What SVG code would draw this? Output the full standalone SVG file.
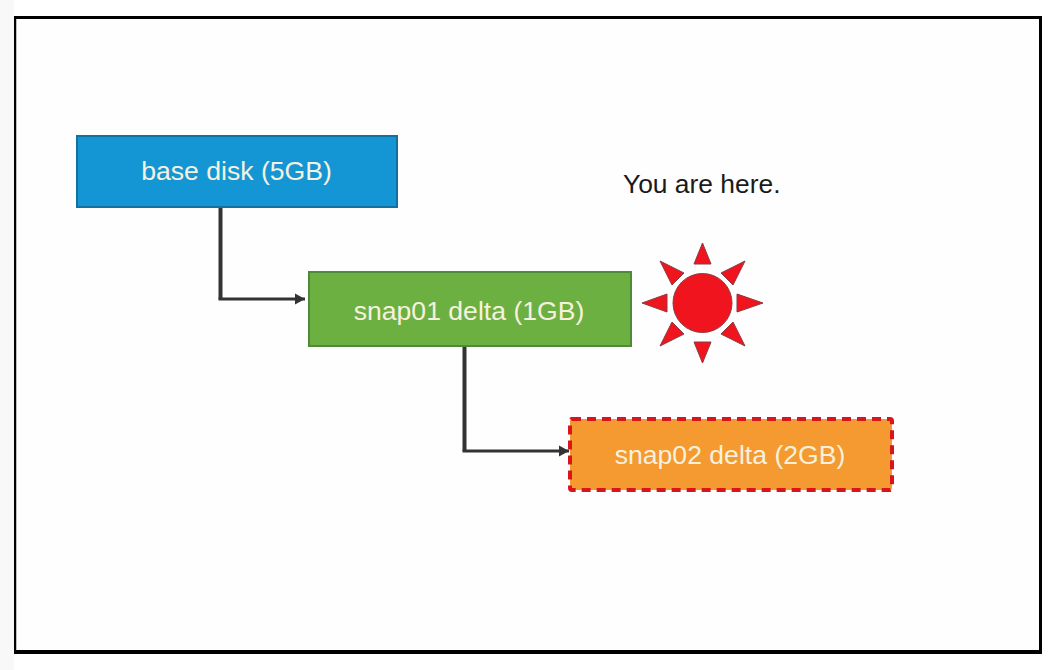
<svg xmlns="http://www.w3.org/2000/svg" width="1064" height="670" viewBox="0 0 1064 670">
  <style>
    .box { stroke-width: 2; }
    .label { font-family: "Liberation Sans", Arial, sans-serif; font-size: 26.600px; fill: #f6f1df; text-anchor: middle; }
    .conn { fill: none; stroke: #333333; }
    .ray { fill: #f0141f; stroke: #8a3a40; stroke-width: 1; stroke-linejoin: round; }
  </style>
  <defs>
    <marker id="arrow" markerUnits="userSpaceOnUse" markerWidth="12" markerHeight="12" refX="10" refY="6" orient="auto">
      <path d="M0,0.5 L10,6 L0,11.5 Z" fill="#333333"/>
    </marker>
  </defs>
  <rect x="0" y="0" width="1064" height="670" fill="#ffffff"/>
  <rect x="0" y="0" width="14" height="670" fill="#f8f8f8"/>
  <g id="frame">
    <path fill-rule="evenodd" fill="#000000" d="M14,16 H1042 V654 H14 Z M16.500,19 V650 H1039 V19 Z"/>
    <rect x="16.500" y="19" width="1022.500" height="631" fill="#fefefe"/>
  </g>
  <g id="connectors">
    <path class="conn" stroke-width="4" d="M220.500,207 V299"/>
    <path class="conn" stroke-width="3" d="M218.500,299 H305" marker-end="url(#arrow)"/>
    <path class="conn" stroke-width="4" d="M464.500,346 V451"/>
    <path class="conn" stroke-width="3" d="M462.500,451 H569" marker-end="url(#arrow)"/>
  </g>
  <g id="base-disk">
    <rect class="box" x="77" y="136" width="320" height="71" fill="#1596d4" stroke="#14709f"/>
    <text class="label" x="236.500" y="180">base disk (5GB)</text>
  </g>
  <g id="snap01">
    <rect class="box" x="309" y="272" width="322" height="74" fill="#6db042" stroke="#4f8a38"/>
    <text class="label" x="469" y="320">snap01 delta (1GB)</text>
  </g>
  <g id="snap02">
    <rect x="570" y="419" width="322" height="71" rx="2" fill="#f59a30" stroke="#d8141c" stroke-width="4" stroke-dasharray="9 6"/>
    <text class="label" x="730" y="464">snap02 delta (2GB)</text>
  </g>
  <g id="you-are-here">
    <text x="623" y="193" font-family="'Liberation Sans', Arial, sans-serif" font-size="26.400" fill="#1a1a1a">You are here.</text>
  </g>
  <g id="sun">
    <circle cx="702.500" cy="303" r="29.500" fill="#f0141f" stroke="#8a3a40" stroke-width="1"/>
    <path class="ray" d="M702.500,243 L711,264 H694 Z"/>
    <path class="ray" d="M702.500,363 L711,342 H694 Z"/>
    <path class="ray" d="M642,303 L667,294 V312 Z"/>
    <path class="ray" d="M763,303 L737,294 V312 Z"/>
    <path class="ray" d="M660,261 L684,273 L672,285 Z"/>
    <path class="ray" d="M745,261 L721,273 L733,285 Z"/>
    <path class="ray" d="M660,346 L672,322 L684,334 Z"/>
    <path class="ray" d="M745,346 L733,322 L721,334 Z"/>
  </g>
</svg>
